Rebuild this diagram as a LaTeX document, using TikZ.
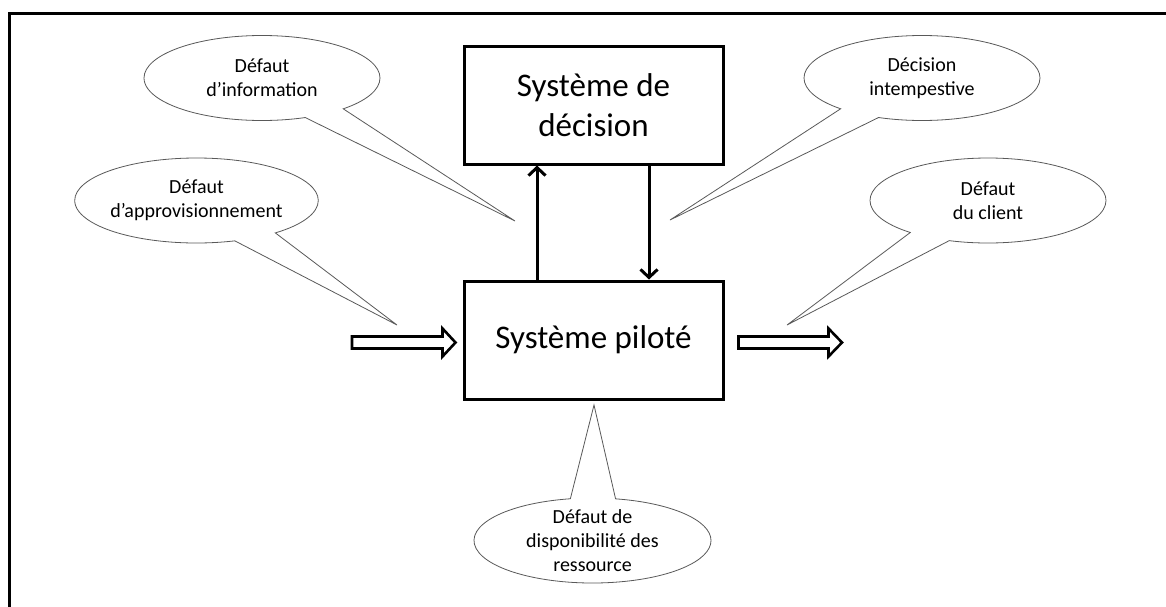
\documentclass[tikz,border=0pt]{standalone}
\usepackage{fontspec}
\setmainfont{Carlito}
\usetikzlibrary{shapes.callouts,arrows.meta}
\begin{document}
\begin{tikzpicture}[x=1pt,y=-1pt,
  box/.style={draw, line width=3pt, minimum width=259pt, minimum height=118pt, inner sep=0pt, align=center, font=\fontsize{33}{40}\selectfont},
  bubble/.style={ellipse callout, draw=black!65, line width=0.8pt, fill=white, inner sep=0pt, minimum width=236pt, minimum height=85pt, align=center, font=\fontsize{20}{24}\selectfont, callout pointer arc=22},
  flow/.style={line width=3pt, -{Straight Barb[length=8pt,width=17pt]}},
  hollow/.style={draw, line width=2.6pt, fill=white, line join=miter}
]
\useasboundingbox (0,0) rectangle (1166,606);
\draw[line width=3pt] (1172,13) -- (9,13) -- (9,612);

\node[box] (dec) at (593.5,105) {Système de\\décision};
\node[box] (pil) at (593.5,340) {Système piloté};

\draw[flow] ([xshift=-56.5pt]pil.north) -- ([xshift=-56.5pt]dec.south);
\draw[flow] ([xshift=55.5pt]dec.south) -- ([xshift=55.5pt]pil.north);

\coordinate (tInfo) at (515,221);
\coordinate (tAppro) at (397,325);
\coordinate (tInt) at (670,220);
\coordinate (tCli) at (787,325);
\coordinate (tRes) at (594,405);

\node[bubble, callout absolute pointer={(tInfo)}] (info) at (262,78) {Défaut\\d’information};
\node[bubble, callout absolute pointer={(tAppro)}] (appro) at (196.5,200.5) {Défaut\\d’approvisionnement};
\node[bubble, callout absolute pointer={(tInt)}] (intemp) at (922,78) {Décision\\intempestive};
\node[bubble, callout absolute pointer={(tCli)}] (client) at (988,200.5) {Défaut\\du client};
\node[bubble, inner ysep=-3pt, minimum width=237pt, callout absolute pointer={(tRes)}] (ress) at (592.5,540.5) {Défaut de\\disponibilité des\\ressource};

\draw[hollow] (352,336.5) -- (442.5,336.5) -- (442.5,328.5) -- (455.5,342.5) -- (442.5,356.5) -- (442.5,348.5) -- (352,348.5) -- cycle;
\draw[hollow] (738.5,336.5) -- (828.5,336.5) -- (828.5,328.5) -- (842,342.5) -- (828.5,356.5) -- (828.5,348.5) -- (738.5,348.5) -- cycle;
\end{tikzpicture}
\end{document}
